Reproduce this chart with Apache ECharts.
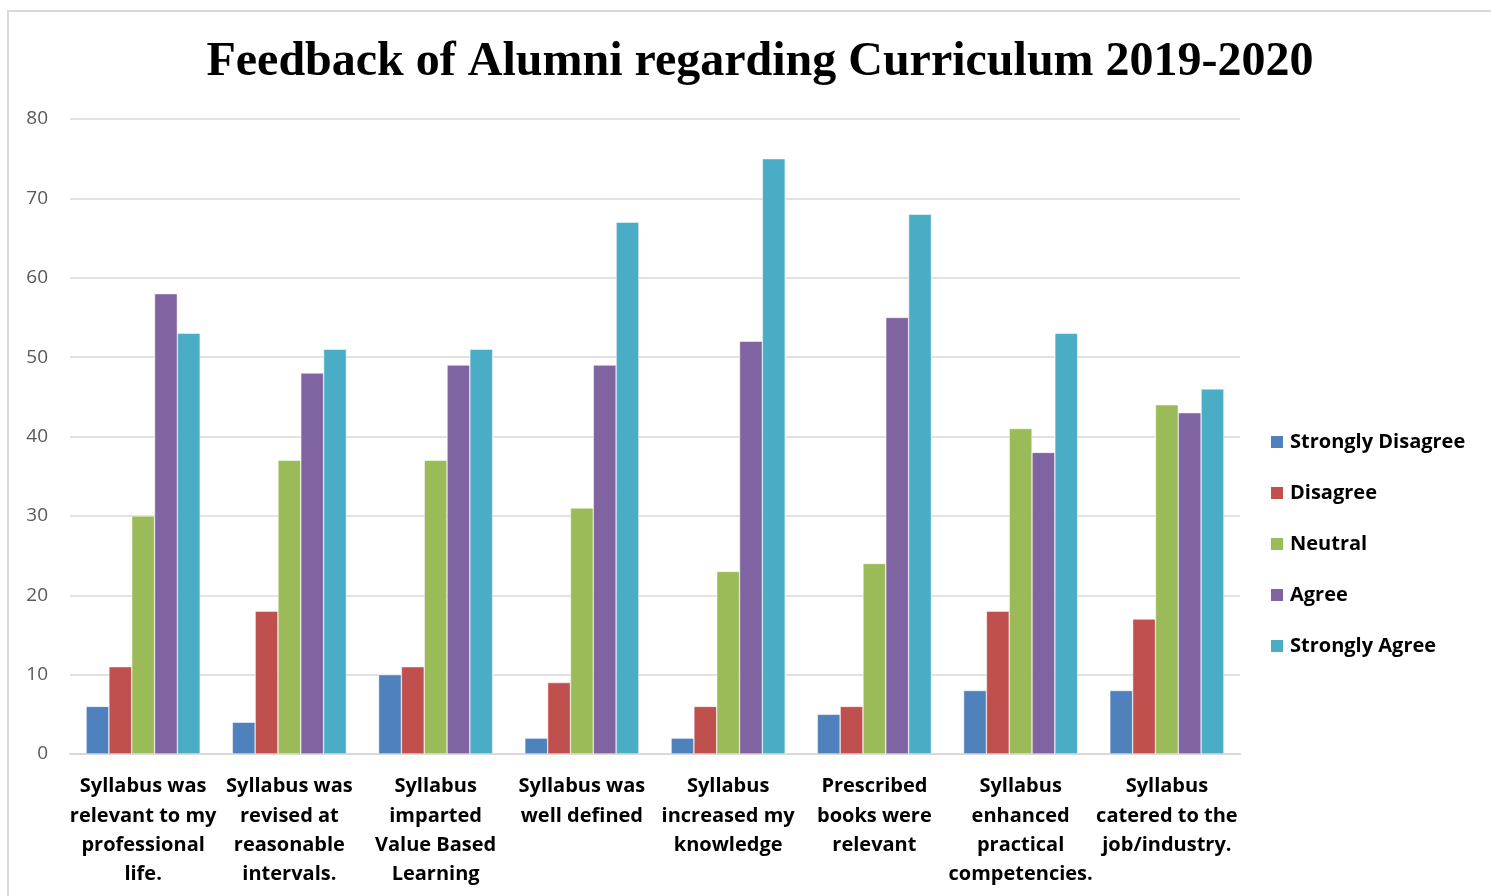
<!DOCTYPE html>
<html>
<head>
<meta charset="utf-8">
<script src="https://cdn.jsdelivr.net/npm/echarts@6/dist/echarts.min.js"></script>
<style>
html,body{margin:0;padding:0;background:#fff;}
#frame{position:absolute;left:7px;top:10px;width:1490px;height:890px;border:2px solid #d9d9d9;box-sizing:border-box;}
#chart{position:absolute;left:0;top:0;width:1491px;height:896px;}
</style>
</head>
<body>
<div id="frame"></div>
<div id="chart"></div>
<script>
const categories = [
  "Syllabus was\nrelevant to my\nprofessional\nlife.",
  "Syllabus was\nrevised at\nreasonable\nintervals.",
  "Syllabus\nimparted\nValue Based\nLearning",
  "Syllabus was\nwell defined",
  "Syllabus\nincreased my\nknowledge",
  "Prescribed\nbooks were\nrelevant",
  "Syllabus\nenhanced\npractical\ncompetencies.",
  "Syllabus\ncatered to the\njob/industry."
];
const seriesNames = ["Strongly Disagree","Disagree","Neutral","Agree","Strongly Agree"];
const stronglyDisagree = [6, 4, 10, 2, 2, 5, 8, 8];
const disagree = [11, 18, 11, 9, 6, 6, 18, 17];
const neutral = [30, 37, 37, 31, 23, 24, 41, 44];
const agree = [58, 48, 49, 49, 52, 55, 38, 43];
const stronglyAgree = [53, 51, 51, 67, 75, 68, 53, 46];
const colors = ["#4F81BD","#C0504D","#9BBB59","#8064A2","#4BACC6"];
const seriesData = [stronglyDisagree, disagree, neutral, agree, stronglyAgree];

const labelFont = '"Open Sans", sans-serif';
const chart = echarts.init(document.getElementById('chart'));
chart.setOption({
  animation:false,
  title:{
    text:"Feedback of Alumni regarding Curriculum 2019-2020",
    left:755, top:34, textAlign:'center',
    textStyle:{fontFamily:'"Liberation Serif", "Times New Roman", serif', fontWeight:'bold', fontSize:48, color:'#000'}
  },
  legend:{
    orient:'vertical', left:1264, top:427,
    itemWidth:14, itemHeight:14, itemGap:31, icon:'rect',
    textStyle:{fontFamily:labelFont, fontWeight:'bold', fontSize:20, color:'#000', padding:[0,0,0,1]},
    data: seriesNames
  },
  grid:{left:70, right:251, top:119, bottom:142, containLabel:false},
  xAxis:{
    type:'category', data:categories,
    axisLine:{lineStyle:{color:'#d9d9d9', width:2}},
    axisTick:{show:false},
    axisLabel:{interval:0, margin:18, fontFamily:labelFont, fontWeight:'bold', fontSize:20, lineHeight:29.3, color:'#000'}
  },
  yAxis:{
    type:'value', min:0, max:80, interval:10,
    axisLine:{show:false}, axisTick:{show:false},
    splitLine:{lineStyle:{color:'#d9d9d9', width:1.5}},
    axisLabel:{margin:22, fontFamily:labelFont, fontSize:19, color:'#595959'}
  },
  series: seriesNames.map((n,i)=>({
    name:n, type:'bar', data:seriesData[i],
    barGap:'0%', barCategoryGap:'22%',
    itemStyle:{color:colors[i], borderColor:'#fff', borderWidth:0.5}
  }))
});
</script>
</body>
</html>
